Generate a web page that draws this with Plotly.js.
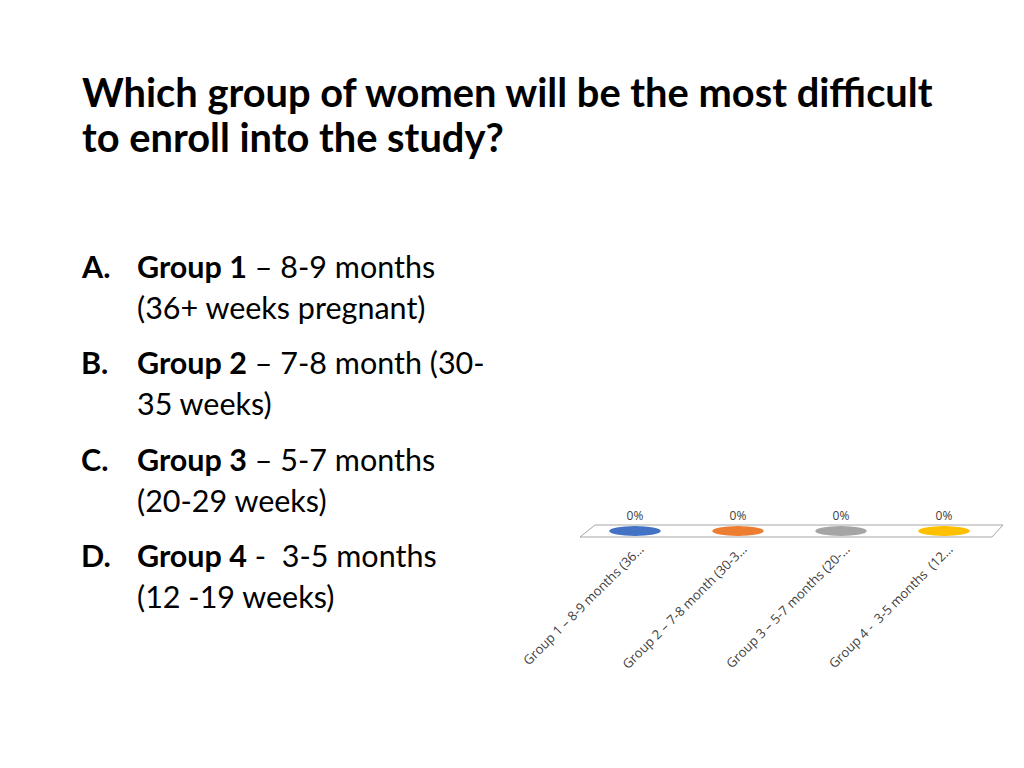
<!DOCTYPE html>
<html><head><meta charset="utf-8">
<script src="https://cdn.plot.ly/plotly-3.0.1.min.js"></script>
<style>html,body{margin:0;padding:0;background:#fff}#chart{width:1024px;height:768px}</style>
</head><body><div id="chart"></div>
<script>
const categories = ["Group 1 – 8-9 months (36…", "Group 2 – 7-8 month (30-3…", "Group 3 – 5-7 months (20-…", "Group 4 -  3-5 months  (12…"];
const values = [0, 0, 0, 0];
const valueLabels = ["0%", "0%", "0%", "0%"];
const colors = ["#4472C4", "#ED7D31", "#A5A5A5", "#FFC000"];
const titleLines = ["Which group of women will be the most difficult", "to enroll into the study?"];
const optionLetters = ["A.", "B.", "C.", "D."];
const optionLines = [
  ["<b>Group 1</b> – 8-9 months", "(36+ weeks pregnant)"],
  ["<b>Group 2</b> – 7-8 month (30-", "35 weeks)"],
  ["<b>Group 3</b> – 5-7 months", "(20-29 weeks)"],
  ["<b>Group 4</b> -  3-5 months", "(12 -19 weeks)"]
];

const W = 1024, H = 768;
const FONT = "Lato, 'Open Sans', sans-serif";
const TICKFONT = "'Open Sans', sans-serif";
const px = x => x / W, py = y => 1 - y / H;

const annotations = [];
titleLines.forEach((t, i) => annotations.push({
  xref: 'paper', yref: 'paper', x: px(80), y: py(91 + i * 46), xanchor: 'left', yanchor: 'middle',
  text: '<b>' + t + '</b>', showarrow: false, font: {family: FONT, size: 39.8, color: '#000'}
}));
const itemTops = [266, 362, 459, 555];
optionLetters.forEach((L, i) => {
  annotations.push({xref: 'paper', yref: 'paper', x: px(79), y: py(itemTops[i]), xanchor: 'left', yanchor: 'middle',
    text: '<b>' + L + '</b>', showarrow: false, font: {family: FONT, size: 30.5, color: '#000'}});
  optionLines[i].forEach((ln, j) => annotations.push({xref: 'paper', yref: 'paper', x: px(135), y: py(itemTops[i] + j * 41),
    xanchor: 'left', yanchor: 'middle', text: ln, showarrow: false, font: {family: FONT, size: 30.5, color: '#000'}}));
});

const shapes = [];
// 3D floor of the chart
shapes.push({type: 'path', xref: 'paper', yref: 'paper',
  path: `M ${px(580)} ${py(537)} L ${px(595)} ${py(525)} L ${px(1003)} ${py(525)} L ${px(992)} ${py(537)} Z`,
  line: {color: '#A6A6A6', width: 1}, fillcolor: 'rgba(0,0,0,0)', layer: 'below'});
// zero-height cylinder tops drawn at each category value
values.forEach((v, i) => shapes.push({type: 'circle', xref: 'x', yref: 'y', ysizemode: 'pixel', yanchor: v,
  x0: i - 0.25, x1: i + 0.25, y0: -5, y1: 5, fillcolor: colors[i], line: {width: 0}}));

const trace = {
  type: 'scatter', mode: 'markers+text', x: [0, 1, 2, 3], y: values, text: valueLabels,
  textposition: 'top center', marker: {size: 12, opacity: 0}, hoverinfo: 'none',
  textfont: {family: TICKFONT, size: 12, color: '#404040'}, cliponaxis: false
};

const layout = {
  width: W, height: H, margin: {l: 0, r: 0, t: 0, b: 0},
  paper_bgcolor: '#fff', plot_bgcolor: 'rgba(0,0,0,0)', showlegend: false,
  xaxis: {domain: [583.5 / W, 995.5 / W], range: [-0.5, 3.5], tickmode: 'array', tickvals: [0, 1, 2, 3],
    ticktext: categories, tickangle: -45, showgrid: false, zeroline: false, showline: false, ticks: '',
    ticklabelshift: 5, ticklabelstandoff: 0,
    tickfont: {family: TICKFONT, size: 13, color: '#404040'}, fixedrange: true},
  yaxis: {domain: [py(538), py(524)], range: [-1, 1], visible: false, fixedrange: true},
  annotations, shapes
};
Plotly.newPlot('chart', [trace], layout, {displayModeBar: false, staticPlot: true});
</script></body></html>
